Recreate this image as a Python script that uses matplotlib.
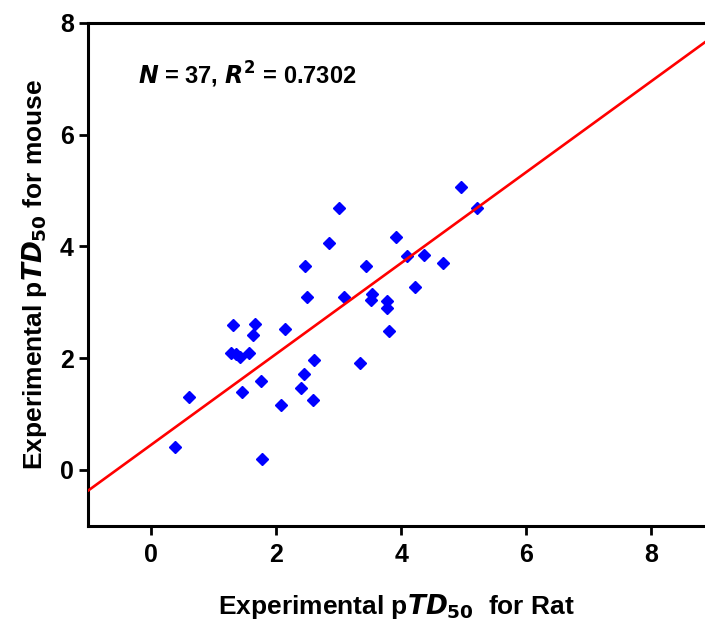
import numpy as np
import matplotlib
matplotlib.use("Agg")
import matplotlib.pyplot as plt

# pTD50 values (rat on x, mouse on y)
rat = [3.00, 2.85, 2.46, 2.50, 3.09, 1.31, 1.67, 1.63, 2.14, 1.28, 1.42, 1.57,
       2.60, 0.60, 1.76, 1.45, 2.44, 2.40, 2.59, 2.08, 0.38, 1.77, 4.96, 5.22,
       3.92, 4.09, 4.36, 4.67, 3.44, 4.22, 3.54, 3.52, 3.77, 3.78, 3.80, 3.34,
       1.36]
mouse = [4.68, 4.06, 3.64, 3.10, 3.10, 2.60, 2.61, 2.42, 2.52, 2.09, 2.02, 2.09,
         1.96, 1.31, 1.58, 1.40, 1.72, 1.46, 1.25, 1.15, 0.41, 0.19, 5.06, 4.68,
         4.16, 3.82, 3.85, 3.71, 3.64, 3.27, 3.15, 3.04, 3.02, 2.89, 2.48, 1.91,
         2.08]
# regression line as drawn in the figure
fit_slope = 0.814
fit_intercept = 0.444
ticks = [0, 2, 4, 6, 8]
stats_text = r"$N$ = 37, $R^2$ = 0.7302"

narrow = ['Liberation Sans Narrow', 'Liberation Sans', 'DejaVu Sans']
plt.rcParams['font.family'] = narrow
plt.rcParams['font.weight'] = 'bold'
plt.rcParams['mathtext.fontset'] = 'custom'
plt.rcParams['mathtext.rm'] = 'Liberation Sans Narrow:bold'
plt.rcParams['mathtext.it'] = 'Liberation Sans Narrow:italic:bold'
plt.rcParams['mathtext.bf'] = 'Liberation Sans Narrow:bold'

fig = plt.figure(figsize=(7.05, 6.35), dpi=100)
ax = fig.add_axes([0.1255, 0.1724, 0.8745, 0.7914])

xlo, xhi = -1, 8.86
xs = np.array([xlo, xhi])
ax.plot(xs, fit_slope * xs + fit_intercept, color='#ff0000', lw=1.9, zorder=3)
ax.plot(rat, mouse, 'D', color='#0000ff', ms=6.5, mec='#0000ff', zorder=2)

ax.set_xlim(xlo, xhi)
ax.set_ylim(-1, 8)
ax.set_xticks(ticks)
ax.set_yticks(ticks)
for s in ['left', 'bottom', 'top']:
    ax.spines[s].set_linewidth(2.2)
ax.spines['right'].set_visible(False)
ax.tick_params(width=2, length=6.5, labelsize=18)
ax.tick_params(axis='x', pad=6)
ax.tick_params(axis='y', pad=4)

ax.set_xlabel(r"Experimental p$\mathit{TD}_{\mathrm{50}}$  for Rat", fontsize=19,
              fontweight='bold', labelpad=18)
ax.set_ylabel(r"Experimental p$\mathit{TD}_{\mathrm{50}}$ for mouse", fontsize=19,
              fontweight='bold', labelpad=8)

ax.text(-0.21, 7.07, stats_text, fontsize=17, fontweight='bold', va='center')

fig.savefig("out.png", dpi=100)
